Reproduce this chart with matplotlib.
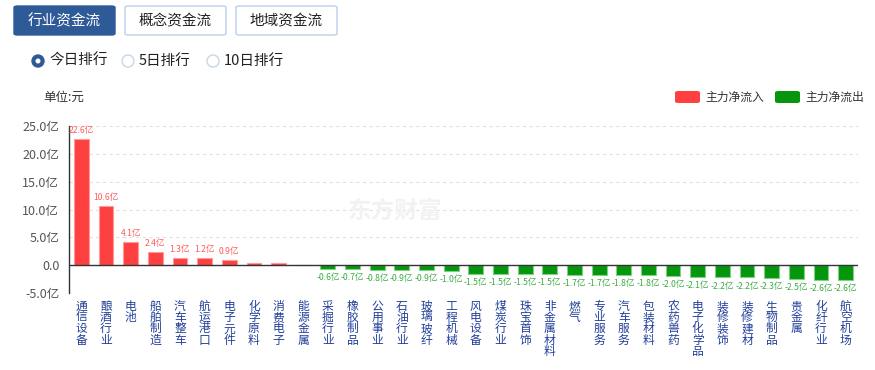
import matplotlib
matplotlib.use("Agg")
import matplotlib.pyplot as plt
from matplotlib.patches import FancyBboxPatch, Ellipse

plt.rcParams['font.family'] = ['Noto Sans CJK SC', 'DejaVu Sans']

# data
industries = ['通信设备', '酿酒行业', '电池', '船舶制造', '汽车整车', '航运港口', '电子元件',
              '化学原料', '消费电子', '能源金属', '采掘行业', '橡胶制品', '公用事业', '石油行业',
              '玻璃玻纤', '工程机械', '风电设备', '煤炭行业', '珠宝首饰', '非金属材料', '燃气',
              '专业服务', '汽车服务', '包装材料', '农药兽药', '电子化学品', '装修装饰', '装修建材',
              '生物制品', '贵金属', '化纤行业', '航空机场']
net_flow = [22.6, 10.6, 4.1, 2.4, 1.3, 1.2, 0.9, 0.4, 0.4, 0.05,
            -0.6, -0.7, -0.8, -0.9, -0.9, -1.0, -1.5, -1.5, -1.5, -1.5, -1.7,
            -1.7, -1.8, -1.8, -2.0, -2.1, -2.2, -2.2, -2.3, -2.5, -2.6, -2.6]
flow_labels = ['22.6亿', '10.6亿', '4.1亿', '2.4亿', '1.3亿', '1.2亿', '0.9亿', '', '', '',
               '-0.6亿', '-0.7亿', '-0.8亿', '-0.9亿', '-0.9亿', '-1.0亿', '-1.5亿', '-1.5亿',
               '-1.5亿', '-1.5亿', '-1.7亿', '-1.7亿', '-1.8亿', '-1.8亿', '-2.0亿', '-2.1亿',
               '-2.2亿', '-2.2亿', '-2.3亿', '-2.5亿', '-2.6亿', '-2.6亿']
y_ticks = [-5, 0, 5, 10, 15, 20, 25]
y_tick_labels = ['-5.0亿', '0.0', '5.0亿', '10.0亿', '15.0亿', '20.0亿', '25.0亿']
tabs = ['行业资金流', '概念资金流', '地域资金流']
ranks = ['今日排行', '5日排行', '10日排行']

W, H = 875, 370
RED, GREEN = '#ff4040', '#06960e'


def px(x, y):
    return x / W, 1 - y / H


fig = plt.figure(figsize=(W / 100, H / 100), dpi=100)

# tabs
for i, name in enumerate(tabs):
    x0 = 14 + i * 111
    active = i == 0
    box = FancyBboxPatch(px(x0, 35), 101 / W, 29 / H, boxstyle='round,pad=0,rounding_size=0.004',
                         transform=fig.transFigure,
                         facecolor='#2f5a98' if active else 'white',
                         edgecolor='#2f5a98' if active else '#b9d0ea', linewidth=1)
    fig.patches.append(box)
    fig.text(*px(x0 + 50.5, 21), name, ha='center', va='center', fontsize=10.5,
             color='white' if active else '#222222')

# radio buttons
for i, (name, cx) in enumerate(zip(ranks, [38, 128, 213])):
    if i == 0:
        fig.patches.append(Ellipse(px(cx, 61), 12 / W, 12 / H, transform=fig.transFigure,
                                   facecolor='#2f5a98', edgecolor='#2f5a98'))
        fig.patches.append(Ellipse(px(cx, 61), 5 / W, 5 / H, transform=fig.transFigure,
                                   facecolor='white', edgecolor='none'))
    else:
        fig.patches.append(Ellipse(px(cx, 61), 12 / W, 12 / H, transform=fig.transFigure,
                                   facecolor='white', edgecolor='#c8d6e8', linewidth=1))
    fig.text(*px(cx + 11, 61), name, ha='left', va='center', fontsize=10.5, color='#222222')

fig.text(*px(43, 97), '单位:元', ha='left', va='center', fontsize=9, color='#333333')

# legend
for i, (name, col) in enumerate(zip(['主力净流入', '主力净流出'], [RED, GREEN])):
    x0 = 675 + i * 100
    fig.patches.append(FancyBboxPatch(px(x0, 103), 25 / W, 12 / H,
                                      boxstyle='round,pad=0,rounding_size=0.004',
                                      transform=fig.transFigure, facecolor=col, edgecolor='none'))
    fig.text(*px(x0 + 30, 97), name, ha='left', va='center', fontsize=8.5, color='#333333')

# watermark
fig.text(*px(395, 211), '东方财富', ha='center', va='center', fontsize=17,
         fontweight='bold', color='#f2f2f2', zorder=0)

ax = fig.add_axes([69 / W, 1 - 293 / H, (858 - 69) / W, 167 / H])
ax.set_facecolor('none')
xs = range(len(industries))
colors = [RED if v >= 0 else GREEN for v in net_flow]
edges = ['#ff9a9a' if v >= 0 else '#7fd083' for v in net_flow]
ax.bar(xs, net_flow, width=0.6, color=colors, edgecolor=edges, linewidth=0.8, zorder=3)

for x, v, lab in zip(xs, net_flow, flow_labels):
    if not lab:
        continue
    if v >= 0:
        ax.annotate(lab, (x, v), xytext=(0, 3), textcoords='offset points', ha='center',
                    va='bottom', fontsize=6.2, color='#ff5a5a')
    else:
        ax.annotate(lab, (x, v), xytext=(0, -3), textcoords='offset points', ha='center',
                    va='top', fontsize=6.2, color='#3cab44')

ax.set_xlim(-0.5, len(industries) - 0.5)
ax.set_ylim(-5, 25)
ax.set_yticks(y_ticks)
ax.set_yticklabels(y_tick_labels, fontsize=9, color='#555555')
ax.set_xticks(list(xs))
ax.set_xticklabels(['\n'.join(n) for n in industries], fontsize=8.5, color='#23409a',
                   va='top', linespacing=0.82)
ax.tick_params(axis='both', length=0)
ax.tick_params(axis='y', pad=7)
ax.tick_params(axis='x', pad=5)
for t in y_ticks:
    if t != 0:
        ax.axhline(t, color='#e0e0e0', linestyle=(0, (3, 3)), linewidth=0.8, zorder=1)
ax.axhline(0, color='#333333', linewidth=1, zorder=4)
for s in ['top', 'right', 'bottom']:
    ax.spines[s].set_visible(False)
ax.spines['left'].set_color('#333333')
ax.spines['left'].set_linewidth(1)

fig.savefig('out.png', dpi=100)
